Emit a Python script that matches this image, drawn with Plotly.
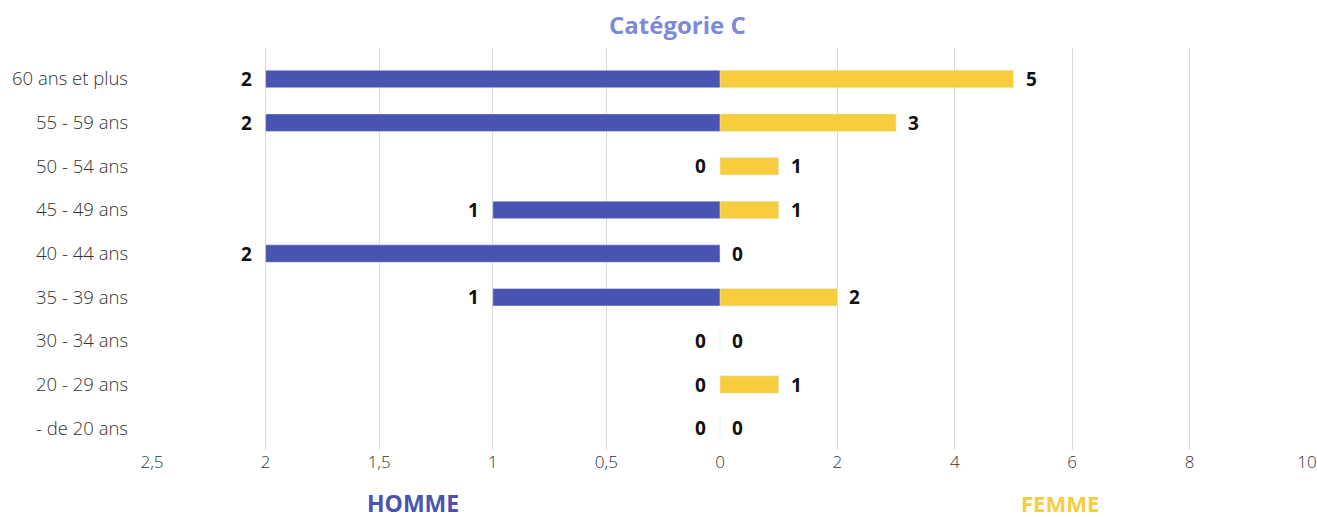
import plotly.graph_objects as go

# Données (catégories de haut en bas)
categories = ["60 ans et plus", "55 - 59 ans", "50 - 54 ans", "45 - 49 ans", "40 - 44 ans",
              "35 - 39 ans", "30 - 34 ans", "20 - 29 ans", "- de 20 ans"]
homme = [2, 2, 0, 1, 2, 1, 0, 0, 0]
femme = [5, 3, 1, 1, 0, 2, 0, 1, 0]

homme_ticks = [0, 0.5, 1, 1.5, 2, 2.5]
homme_ticktext = ["0", "0,5", "1", "1,5", "2", "2,5"]
femme_ticks = [2, 4, 6, 8, 10]

C_HOMME = "#4854b0"
C_FEMME = "#f7cd3e"
C_TITLE = "#7d89d9"
FONT = "Open Sans"

W, H = 1317, 519
PLOT_L, PLOT_R, PLOT_T, PLOT_B = 152, 1307, 48, 450
split = (720 - PLOT_L) / (PLOT_R - PLOT_L)

fig = go.Figure()
fig.add_trace(go.Bar(
    y=categories, x=homme, orientation="h", xaxis="x", yaxis="y",
    marker_color=C_HOMME, width=0.4, name="HOMME",
))
fig.add_trace(go.Bar(
    y=categories, x=femme, orientation="h", xaxis="x2", yaxis="y",
    marker_color=C_FEMME, width=0.4, name="FEMME",
))

# étiquettes de valeur
label_font = dict(family=FONT, size=19, color="#111", weight="bold")
for cat, v in zip(categories, homme):
    fig.add_annotation(x=v, y=cat, xref="x", yref="y", text=str(v), showarrow=False,
                       xanchor="right", xshift=-12, font=label_font)
for cat, v in zip(categories, femme):
    fig.add_annotation(x=v, y=cat, xref="x2", yref="y", text=str(v), showarrow=False,
                       xanchor="left", xshift=10, font=label_font)

axis_common = dict(showgrid=True, gridcolor="#d9d9d9", gridwidth=1, zeroline=False,
                   showline=False, ticks="", automargin=False,
                   tickfont=dict(family=FONT, size=17, color="#333", weight=300))

# les lignes de grille dépassent un peu au-dessus de la première catégorie
top_pad = (79 - PLOT_T) / ((PLOT_B - 79) / 8.5)

fig.update_layout(
    width=W, height=H,
    margin=dict(l=PLOT_L, r=W - PLOT_R, t=PLOT_T, b=H - PLOT_B),
    paper_bgcolor="white", plot_bgcolor="white",
    showlegend=False, bargap=0.6,
    font=dict(family=FONT),
    xaxis=dict(domain=[0, split], range=[2.5, 0], tickvals=homme_ticks,
               ticktext=homme_ticktext, anchor="y", **axis_common),
    xaxis2=dict(domain=[split, 1], range=[0, 10], tickvals=femme_ticks,
                anchor="y", **axis_common),
    yaxis=dict(range=[len(categories) - 0.5, -top_pad], showgrid=False, zeroline=False,
               showline=False, ticks="", ticklabelstandoff=23, automargin=False,
               tickfont=dict(family=FONT, size=18.5, color="#333", weight=300)),
)

def px_x(px):
    return (px - PLOT_L) / (PLOT_R - PLOT_L)

def px_y(py):
    return (PLOT_B - py) / (PLOT_B - PLOT_T)

fig.add_annotation(text="Catégorie C", xref="paper", yref="paper", x=px_x(677), y=px_y(24),
                   xanchor="center", yanchor="middle", showarrow=False,
                   font=dict(family=FONT, size=24, color=C_TITLE, weight="bold"))
fig.add_annotation(text="HOMME", xref="paper", yref="paper", x=px_x(413), y=px_y(503),
                   xanchor="center", yanchor="middle", showarrow=False,
                   font=dict(family=FONT, size=23, color=C_HOMME, weight="bold"))
fig.add_annotation(text="FEMME", xref="paper", yref="paper", x=px_x(1060), y=px_y(503),
                   xanchor="center", yanchor="middle", showarrow=False,
                   font=dict(family=FONT, size=22, color=C_FEMME, weight="bold"))

# pas de marge autour du graphique dans la page
fig.write_html("out.html", config={"displayModeBar": False},
               post_script="document.body.style.margin = '0';")
